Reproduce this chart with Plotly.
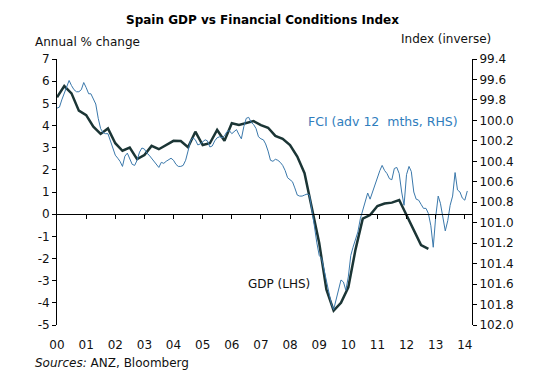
import plotly.graph_objects as go
import pandas as pd

# ---------------- data ----------------
gdp_quarters = pd.date_range("2000-01-01", periods=52, freq="QS")
gdp_yoy = [5.27, 5.78, 5.45, 4.67, 4.47, 3.95, 3.62, 3.87, 3.20, 2.86,
           3.00, 2.48, 2.67, 3.08, 2.93, 3.12, 3.31, 3.30, 3.02, 3.72,
           3.12, 3.20, 3.80, 3.31, 4.10, 4.02, 4.10, 4.20, 4.02, 3.90,
           3.53, 3.40, 3.12, 2.60, 1.85, 0.30, -1.30, -3.40, -4.35, -4.00,
           -3.30, -1.60, -0.20, -0.04, 0.37, 0.48, 0.52, 0.64, -0.04, -0.71,
           -1.39, -1.57]

fci_months = pd.date_range("2000-01-01", periods=170, freq="MS")
fci_index = [99.88, 99.87, 99.80, 99.73, 99.66, 99.61, 99.66, 99.70, 99.72, 99.72,
             99.70, 99.63, 99.68, 99.74, 99.74, 99.79, 99.84, 99.98, 100.08, 100.12,
             100.13, 100.13, 100.20, 100.28, 100.34, 100.37, 100.40, 100.45, 100.35, 100.32,
             100.38, 100.43, 100.44, 100.39, 100.31, 100.27, 100.28, 100.32, 100.34, 100.37,
             100.40, 100.44, 100.46, 100.41, 100.42, 100.40, 100.38, 100.37, 100.39, 100.43,
             100.45, 100.45, 100.44, 100.39, 100.30, 100.20, 100.17, 100.19, 100.24, 100.23,
             100.21, 100.19, 100.20, 100.26, 100.25, 100.20, 100.17, 100.16, 100.17, 100.15,
             100.11, 100.10, 100.13, 100.11, 100.09, 100.14, 100.18, 100.06, 99.98, 99.97,
             100.02, 100.04, 100.08, 100.16, 100.18, 100.19, 100.23, 100.30, 100.39, 100.40,
             100.38, 100.39, 100.41, 100.44, 100.49, 100.56, 100.58, 100.60, 100.66, 100.73,
             100.74, 100.74, 100.73, 100.72, 100.73, 100.86, 101.03, 101.19, 101.32, 101.35,
             101.46, 101.58, 101.69, 101.79, 101.85, 101.75, 101.63, 101.56, 101.58, 101.66,
             101.53, 101.32, 101.24, 101.17, 101.09, 100.96, 100.88, 100.80, 100.71, 100.77,
             100.70, 100.62, 100.57, 100.49, 100.44, 100.49, 100.52, 100.57, 100.58, 100.47,
             100.46, 100.52, 100.70, 100.83, 100.53, 100.45, 100.50, 100.70, 100.77, 100.78,
             100.82, 100.86, 100.86, 100.91, 101.03, 101.24, 100.94, 100.74, 100.81, 100.94,
             101.08, 100.98, 100.83, 100.74, 100.51, 100.68, 100.70, 100.76, 100.78, 100.69]

year_ticks = pd.date_range("2000-01-01", "2014-01-01", freq="YS")
year_labels = ["00", "01", "02", "03", "04", "05", "06", "07",
               "08", "09", "10", "11", "12", "13", "14"]
left_ticks = [-5, -4, -3, -2, -1, 0, 1, 2, 3, 4, 5, 6, 7]
left_labels = ["-5", "-4", "-3", "-2", "-1", "0", "1", "2", "3", "4", "5", "6", "7"]
right_ticks = [99.4, 99.6, 99.8, 100.0, 100.2, 100.4, 100.6, 100.8,
               101.0, 101.2, 101.4, 101.6, 101.8, 102.0]

title_text = "Spain GDP vs Financial Conditions Index"
left_title = "Annual % change"
right_title = "Index (inverse)"
fci_label = "FCI (adv 12  mths, RHS)"
gdp_label = "GDP (LHS)"
source_text = "<i>Sources:</i> ANZ, Bloomberg"

# ---------------- layout geometry (pixels) ----------------
W, H = 550, 383
PL, PR, PT, PB = 57, 472, 59, 325


def px(x):
    return (x - PL) / (PR - PL)


def py(y):
    return (PB - y) / (PB - PT)


FONT = "DejaVu Sans, Verdana, sans-serif"
GDP_COLOR = "#1b3535"
FCI_COLOR = "#3a78ab"
LABEL_BLUE = "#2f7dbd"
TXT = "#111"

fig = go.Figure()
fig.add_trace(go.Scatter(x=fci_months, y=fci_index, yaxis="y2", mode="lines",
                         line=dict(color=FCI_COLOR, width=1), hoverinfo="skip"))
fig.add_trace(go.Scatter(x=gdp_quarters, y=gdp_yoy, mode="lines",
                         line=dict(color=GDP_COLOR, width=2.5), hoverinfo="skip"))

x_range = ["2000-01-01", "2014-04-01"]

fig.update_layout(
    width=W, height=H,
    margin=dict(l=PL, r=W - PR, t=PT, b=H - PB, pad=0),
    paper_bgcolor="white", plot_bgcolor="white",
    showlegend=False,
    font=dict(family=FONT, size=12, color=TXT),
    xaxis=dict(type="date", range=x_range, tickvals=year_ticks, ticktext=year_labels,
               ticks="outside", ticklen=9, tickcolor="rgba(0,0,0,0)",
               showline=False, showgrid=False, zeroline=False,
               tickfont=dict(size=12, color=TXT)),
    xaxis2=dict(type="date", range=x_range, overlaying="x", anchor="free",
                position=5 / 12, tickvals=year_ticks[1:], showticklabels=False,
                ticks="outside", ticklen=4, tickcolor="#000", tickwidth=1,
                showline=True, linecolor="#000", linewidth=1,
                showgrid=False, zeroline=False),
    yaxis=dict(range=[-5, 7], tickvals=left_ticks, ticktext=left_labels,
               ticks="outside", ticklen=4, tickcolor="#000",
               showline=True, linecolor="#000", linewidth=1,
               showgrid=False, zeroline=False, tickfont=dict(size=12, color=TXT)),
    yaxis2=dict(range=[102.0, 99.4], overlaying="y", side="right", anchor="x",
                tickvals=right_ticks, tickformat=".1f",
                ticks="outside", ticklen=4, tickcolor="#000",
                showline=True, linecolor="#000", linewidth=1,
                showgrid=False, zeroline=False, tickfont=dict(size=12, color=TXT)),
)

annotations = [
    dict(text="<b>" + title_text + "</b>", x=px(262), y=py(20), xanchor="center",
         yanchor="middle", font=dict(size=12, color="#000")),
    dict(text=left_title, x=px(33), y=py(42), xanchor="left", yanchor="middle",
         font=dict(size=12, color=TXT)),
    dict(text=right_title, x=px(493), y=py(39), xanchor="right", yanchor="middle",
         font=dict(size=12, color=TXT)),
    dict(text=fci_label, x=px(306), y=py(122), xanchor="left", yanchor="middle",
         font=dict(size=12.5, color=LABEL_BLUE)),
    dict(text=gdp_label, x=px(246), y=py(284), xanchor="left", yanchor="middle",
         font=dict(size=12, color=TXT)),
    dict(text=source_text, x=px(33), y=py(363), xanchor="left", yanchor="middle",
         font=dict(size=12, color=TXT)),
]
for a in annotations:
    a.update(xref="paper", yref="paper", showarrow=False)
fig.update_layout(annotations=annotations)

# invisible trace so the zero-line axis is rendered
fig.add_trace(go.Scatter(x=[year_ticks[0]], y=[0], xaxis="x2", mode="markers",
                         marker=dict(opacity=0), hoverinfo="skip"))

fig.write_html("out.html", config={"displayModeBar": False},
               post_script="document.body.style.margin='0px';")
